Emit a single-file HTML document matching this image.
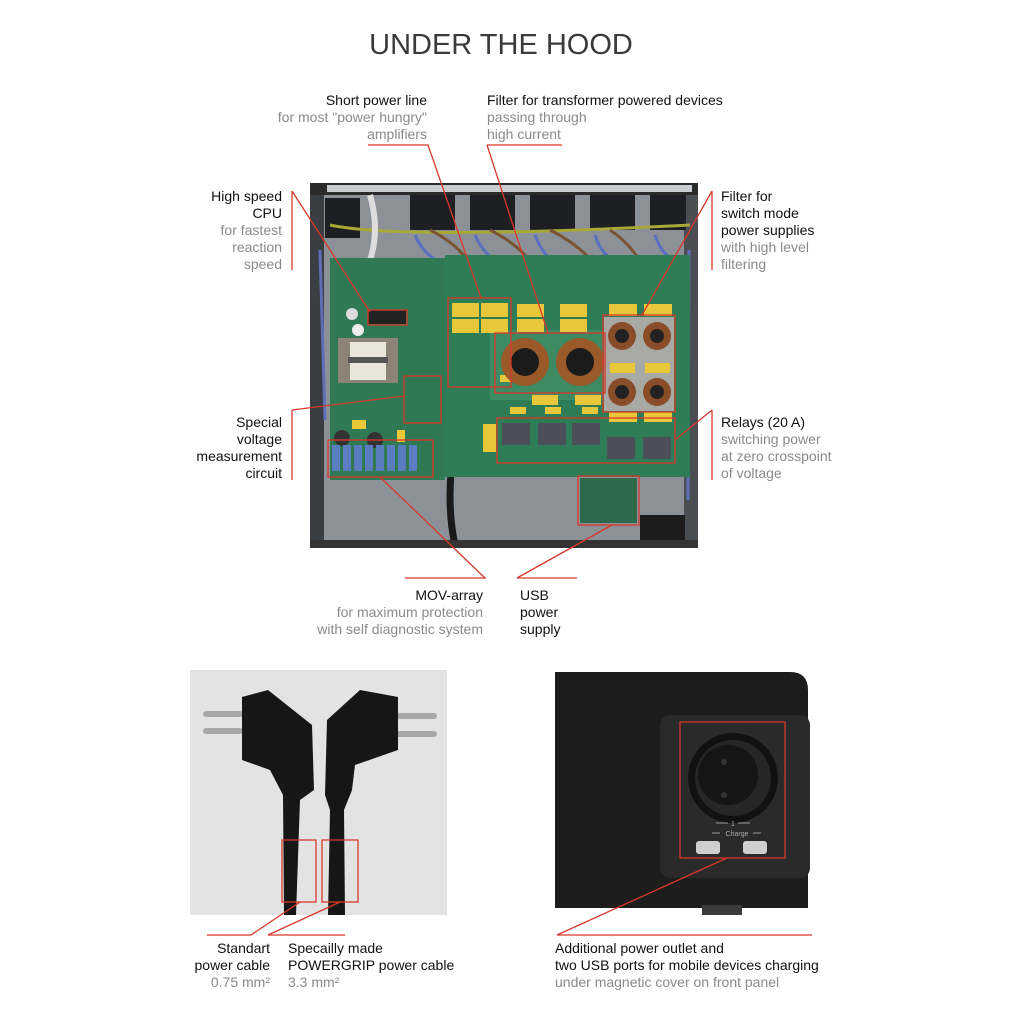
<!DOCTYPE html>
<html><head><meta charset="utf-8"><style>
body{margin:0;width:1024px;height:1024px;background:#fff;position:relative;overflow:hidden;font-family:"Liberation Sans",sans-serif;}
.t{position:absolute;font-size:14px;line-height:17px;color:#111;white-space:nowrap}
.g{color:#8a8a8a}
.r{text-align:right}
svg{position:absolute;left:0;top:0}
</style></head><body>
<svg width="1024" height="1024" viewBox="0 0 1024 1024">
<rect x="310" y="183" width="388" height="365" fill="#8c9198"/>
<rect x="310" y="183" width="388" height="12" fill="#2a2a2a"/>
<rect x="327" y="185" width="365" height="7" fill="#c9ccd0"/>
<rect x="310" y="195" width="14" height="350" fill="#3a3d42"/>
<rect x="684" y="195" width="14" height="350" fill="#4a4d52"/>
<g fill="#1e1f22"><rect x="410" y="195" width="45" height="35"/><rect x="470" y="195" width="45" height="35"/><rect x="530" y="195" width="45" height="35"/><rect x="590" y="195" width="45" height="35"/><rect x="650" y="195" width="36" height="35"/><rect x="325" y="198" width="35" height="40"/></g>
<g fill="none" stroke-width="3">
<path d="M330 225 Q400 240 690 225" stroke="#a8a838"/>
<path d="M415 235 Q430 270 470 265 M475 235 Q490 270 530 268 M535 235 Q550 275 590 270 M595 235 Q605 270 650 268 M655 235 Q665 265 690 262" stroke="#5b6fc0"/>
<path d="M430 230 Q470 250 480 285 M490 230 Q530 250 545 285 M550 230 Q590 250 610 285 M610 230 Q640 250 650 285" stroke="#7a5535"/>
<path d="M370 195 Q380 230 370 260" stroke="#ddd" stroke-width="6"/>
<path d="M440 320 Q465 380 455 440 Q445 500 455 545" stroke="#1a1a1a" stroke-width="7"/>
<path d="M320 250 L325 420 M689 250 L688 500" stroke="#6070b8"/>
</g>
<rect x="330" y="258" width="115" height="222" fill="#2f7a55"/>
<rect x="445" y="255" width="245" height="222" fill="#2e7d57"/>
<rect x="490" y="330" width="120" height="70" fill="#3d8a63"/>
<rect x="338" y="338" width="60" height="45" fill="#8b8477"/>
<rect x="350" y="342" width="36" height="38" fill="#e9e6dc"/>
<rect x="348" y="357" width="40" height="6" fill="#555"/>
<circle cx="352" cy="314" r="6" fill="#ddd"/><circle cx="358" cy="330" r="6" fill="#eee"/>
<circle cx="342" cy="438" r="8" fill="#333"/><circle cx="375" cy="440" r="8" fill="#333"/>
<rect x="368" y="310" width="38" height="14" fill="#222"/>
<g fill="#5a7dbf"><rect x="332" y="445" width="8" height="26"/><rect x="343" y="445" width="8" height="26"/><rect x="354" y="445" width="8" height="26"/><rect x="365" y="445" width="8" height="26"/><rect x="376" y="445" width="8" height="26"/><rect x="387" y="445" width="8" height="26"/><rect x="398" y="445" width="8" height="26"/><rect x="409" y="445" width="8" height="26"/></g>
<g fill="#e8c83a">
<rect x="452" y="303" width="27" height="14"/><rect x="481" y="303" width="27" height="14"/><rect x="452" y="319" width="27" height="14"/><rect x="481" y="319" width="27" height="14"/>
<rect x="517" y="304" width="27" height="13"/><rect x="517" y="319" width="27" height="13"/><rect x="560" y="304" width="27" height="13"/><rect x="560" y="319" width="27" height="13"/>
<rect x="609" y="304" width="28" height="12"/><rect x="644" y="304" width="28" height="12"/>
<rect x="532" y="395" width="26" height="10"/><rect x="575" y="395" width="26" height="10"/>
<rect x="510" y="407" width="16" height="7"/><rect x="545" y="407" width="16" height="7"/><rect x="582" y="407" width="16" height="7"/>
<rect x="609" y="412" width="28" height="10"/><rect x="644" y="412" width="28" height="10"/>
<rect x="483" y="424" width="13" height="28"/><rect x="500" y="375" width="14" height="7"/>
<rect x="352" y="420" width="14" height="9"/><rect x="397" y="430" width="8" height="12"/>
</g>
<g><circle cx="525" cy="362" r="24" fill="#9a5a2a"/><circle cx="525" cy="362" r="14" fill="#1b1b1b"/>
<circle cx="580" cy="362" r="24" fill="#9a5a2a"/><circle cx="580" cy="362" r="14" fill="#1b1b1b"/>
<rect x="604" y="317" width="70" height="94" fill="#a8a8a4"/>
<circle cx="622" cy="336" r="14" fill="#8a4d2a"/><circle cx="622" cy="336" r="7" fill="#222"/>
<circle cx="657" cy="336" r="14" fill="#8a4d2a"/><circle cx="657" cy="336" r="7" fill="#222"/>
<circle cx="622" cy="392" r="14" fill="#8a4d2a"/><circle cx="622" cy="392" r="7" fill="#222"/>
<circle cx="657" cy="392" r="14" fill="#8a4d2a"/><circle cx="657" cy="392" r="7" fill="#222"/>
<rect x="610" y="363" width="25" height="10" fill="#e8c83a"/><rect x="645" y="363" width="25" height="10" fill="#e8c83a"/></g>
<g fill="#4a4f5a"><rect x="502" y="423" width="28" height="22"/><rect x="538" y="423" width="28" height="22"/><rect x="572" y="423" width="28" height="22"/><rect x="607" y="437" width="28" height="22"/><rect x="643" y="437" width="28" height="22"/></g>
<rect x="580" y="478" width="57" height="45" fill="#2e6b4c"/>
<rect x="640" y="515" width="45" height="30" fill="#1c1c1c"/>
<rect x="310" y="540" width="388" height="8" fill="#333"/>
<g fill="none" stroke="#d8382a" stroke-width="1.3">
<rect x="368" y="310" width="39" height="15"/>
<rect x="448" y="298" width="63" height="89"/>
<rect x="495" y="333" width="110" height="60"/>
<rect x="603" y="315" width="72" height="97"/>
<rect x="404" y="376" width="37" height="47"/>
<rect x="497" y="418" width="178" height="45"/>
<rect x="328" y="440" width="105" height="37"/>
<rect x="578" y="476" width="61" height="49"/>
</g>
<g fill="none" stroke="#d8382a" stroke-width="1.3">
<path d="M368 145 H428 L481 298"/>
<path d="M487 145 H562 M487 145 L548 333"/>
<path d="M292 191 V270 M292 191 L370 312"/>
<path d="M712 191 V270 M712 191 L642 315"/>
<path d="M292 410 V480 M292 410 L404 396"/>
<path d="M712 410 V480 M712 410 L675 440"/>
<path d="M405 578 H485 L380 477"/>
<path d="M517 578 H577 M517 578 L612 525"/>
</g>
<rect x="190" y="670" width="257" height="245" fill="#e3e3e3"/>
<g fill="#a8a8a8"><rect x="203" y="711" width="40" height="6" rx="3"/><rect x="203" y="728" width="40" height="6" rx="3"/><rect x="395" y="713" width="42" height="6" rx="3"/><rect x="395" y="731" width="42" height="6" rx="3"/></g>
<path d="M242 697 L268 690 L312 725 L314 790 L300 800 L296 915 L284 915 L283 795 L270 770 L242 760 Z" fill="#161616"/>
<path d="M398 697 L360 690 L327 720 L325 795 L330 810 L328 915 L345 915 L344 810 L352 790 L355 765 L398 750 Z" fill="#161616"/>
<g fill="none" stroke="#d8382a" stroke-width="1.3">
<rect x="282" y="840" width="34" height="62"/><rect x="322" y="840" width="36" height="62"/>
<path d="M207 935 H251 L300 902"/><path d="M268 935 H345 M268 935 L340 902"/>
</g>
<path d="M555 672 H790 Q808 672 808 690 V908 H555 Z" fill="#1d1d1d"/>
<rect x="660" y="715" width="150" height="163" rx="10" fill="#2a2a2a"/>
<rect x="702" y="905" width="40" height="10" fill="#3a3a3a"/>
<circle cx="733" cy="778" r="45" fill="#111"/><circle cx="733" cy="778" r="38" fill="#262626"/><circle cx="728" cy="775" r="30" fill="#151515"/>
<circle cx="724" cy="762" r="3" fill="#333"/><circle cx="724" cy="795" r="3" fill="#333"/>
<rect x="696" y="841" width="24" height="13" rx="3" fill="#cfcfcf"/><rect x="743" y="841" width="24" height="13" rx="3" fill="#cfcfcf"/>
<g stroke="#999" stroke-width="1"><path d="M716 823 H728 M738 823 H750 M712 833 H720 M753 833 H761"/></g>
<text x="733" y="826" font-size="7" fill="#aaa" text-anchor="middle" font-family="Liberation Sans">1</text>
<text x="737" y="836" font-size="7" fill="#aaa" text-anchor="middle" font-family="Liberation Sans">Charge</text>
<g fill="none" stroke="#d8382a" stroke-width="1.3">
<rect x="680" y="722" width="105" height="136"/>
<path d="M727 858 L557 935 H812"/>
</g>
</svg>

<div class="t" style="left:0;width:1002px;top:28px;text-align:center;font-size:29px;line-height:34px;color:#3a3a3a;">UNDER THE HOOD</div>

<div class="t r" style="right:597px;top:92px">Short power line<br><span class="g">for most "power hungry"<br>amplifiers</span></div>
<div class="t" style="left:487px;top:92px">Filter for transformer powered devices<br><span class="g">passing through<br>high current</span></div>
<div class="t r" style="right:742px;top:188px">High speed<br>CPU<br><span class="g">for fastest<br>reaction<br>speed</span></div>
<div class="t" style="left:721px;top:188px">Filter for<br>switch mode<br>power supplies<br><span class="g">with high level<br>filtering</span></div>
<div class="t r" style="right:742px;top:414px">Special<br>voltage<br>measurement<br>circuit</div>
<div class="t" style="left:721px;top:414px">Relays (20 A)<br><span class="g">switching power<br>at zero crosspoint<br>of voltage</span></div>
<div class="t r" style="right:541px;top:587px">MOV-array<br><span class="g">for maximum protection<br>with self diagnostic system</span></div>
<div class="t" style="left:520px;top:587px">USB<br>power<br>supply</div>

<div class="t r" style="right:754px;top:940px">Standart<br>power cable<br><span class="g">0.75 mm²</span></div>
<div class="t" style="left:288px;top:940px">Specailly made<br>POWERGRIP power cable<br><span class="g">3.3 mm²</span></div>
<div class="t" style="left:555px;top:940px">Additional power outlet and<br>two USB ports for mobile devices charging<br><span class="g">under magnetic cover on front panel</span></div>
</body></html>
